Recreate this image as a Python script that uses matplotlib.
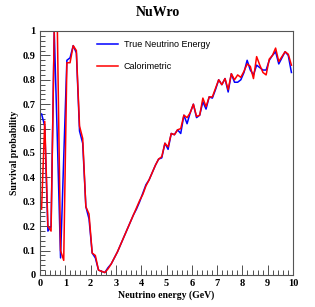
import numpy as np
import matplotlib.pyplot as plt
from matplotlib.ticker import MultipleLocator, FuncFormatter

# bin centres, 80 bins of 0.125 GeV
energia = np.arange(80) * 0.125 + 0.0625

# survival probability, true neutrino energy
p_true = [0.66, 0.61, 0.18, 0.20, 1.00, 0.55, 0.07, 0.48, 0.88, 0.89,
          0.94, 0.91, 0.59, 0.54, 0.28, 0.23, 0.09, 0.07, 0.02, 0.015,
          0.01, 0.03, 0.045, 0.07, 0.095, 0.125, 0.155, 0.185, 0.215, 0.245,
          0.27, 0.30, 0.335, 0.37, 0.39, 0.42, 0.45, 0.475, 0.48, 0.54,
          0.515, 0.58, 0.575, 0.595, 0.58, 0.655, 0.62, 0.665, 0.70, 0.645,
          0.655, 0.71, 0.68, 0.73, 0.725, 0.76, 0.80, 0.78, 0.805, 0.75,
          0.825, 0.79, 0.79, 0.80, 0.83, 0.88, 0.84, 0.82, 0.86, 0.85,
          0.84, 0.84, 0.88, 0.90, 0.915, 0.865, 0.89, 0.915, 0.90, 0.83]

# survival probability, calorimetric energy
p_calo = [0.27, 0.63, 0.20, 0.18, 1.00, 1.00, 0.10, 0.06, 0.87, 0.87,
          0.94, 0.92, 0.61, 0.56, 0.28, 0.25, 0.09, 0.08, 0.02, 0.015,
          0.01, 0.025, 0.045, 0.07, 0.095, 0.125, 0.155, 0.185, 0.215, 0.245,
          0.275, 0.305, 0.33, 0.365, 0.39, 0.42, 0.45, 0.475, 0.485, 0.54,
          0.525, 0.58, 0.575, 0.595, 0.60, 0.655, 0.645, 0.665, 0.70, 0.65,
          0.655, 0.725, 0.69, 0.73, 0.73, 0.765, 0.80, 0.78, 0.805, 0.76,
          0.825, 0.80, 0.82, 0.81, 0.835, 0.865, 0.855, 0.805, 0.895, 0.86,
          0.83, 0.82, 0.885, 0.90, 0.93, 0.875, 0.895, 0.915, 0.905, 0.86]

serif = 'Liberation Serif'
sans = 'Liberation Sans'

fig = plt.figure(figsize=(3.15, 3.07), dpi=100)
ax = fig.add_axes([40/315, 32/307, 253/315, 244/307])

ax.plot(energia, p_true, color=(0, 0, 1), lw=1.1, label='True Neutrino Energy')
ax.plot(energia, p_calo, color=(1, 0, 0), lw=1.1, label='Calorimetric')

ax.set_xlim(0, 10)
ax.set_ylim(0, 1)

ax.xaxis.set_major_locator(MultipleLocator(1))
ax.xaxis.set_minor_locator(MultipleLocator(0.2))
ax.yaxis.set_major_locator(MultipleLocator(0.1))
ax.yaxis.set_minor_locator(MultipleLocator(0.02))
fmt = FuncFormatter(lambda v, pos: '%g' % round(v, 2))
ax.xaxis.set_major_formatter(fmt)
ax.yaxis.set_major_formatter(fmt)

ax.tick_params(which='both', direction='in', top=False, right=False, width=0.6, colors='#333333')
ax.tick_params(which='major', length=7, pad=3, labelsize=7.5, labelcolor='black')
ax.tick_params(which='minor', length=3.5)
for lab in ax.get_xticklabels() + ax.get_yticklabels():
    lab.set_fontfamily(serif)
    lab.set_fontweight('bold')

for s in ax.spines.values():
    s.set_linewidth(0.8)
    s.set_color('#555555')

ax.set_xlabel('Neutrino energy (GeV)', fontfamily=serif, fontweight='bold', fontsize=7, labelpad=1.5)
ax.set_ylabel('Survival probability', fontfamily=serif, fontweight='bold', fontsize=7, labelpad=2.5)
fig.text(158/315, 1 - 13/307, 'NuWro', ha='center', va='center',
         fontfamily=serif, fontweight='bold', fontsize=10)

ax.legend(loc='center left', bbox_to_anchor=(0.225, 0.898), frameon=False,
          prop={'family': sans, 'size': 6.5}, borderaxespad=0, borderpad=0,
          labelspacing=1.45, handlelength=2.3, handletextpad=0.65)

plt.savefig('out.png', dpi=100)
